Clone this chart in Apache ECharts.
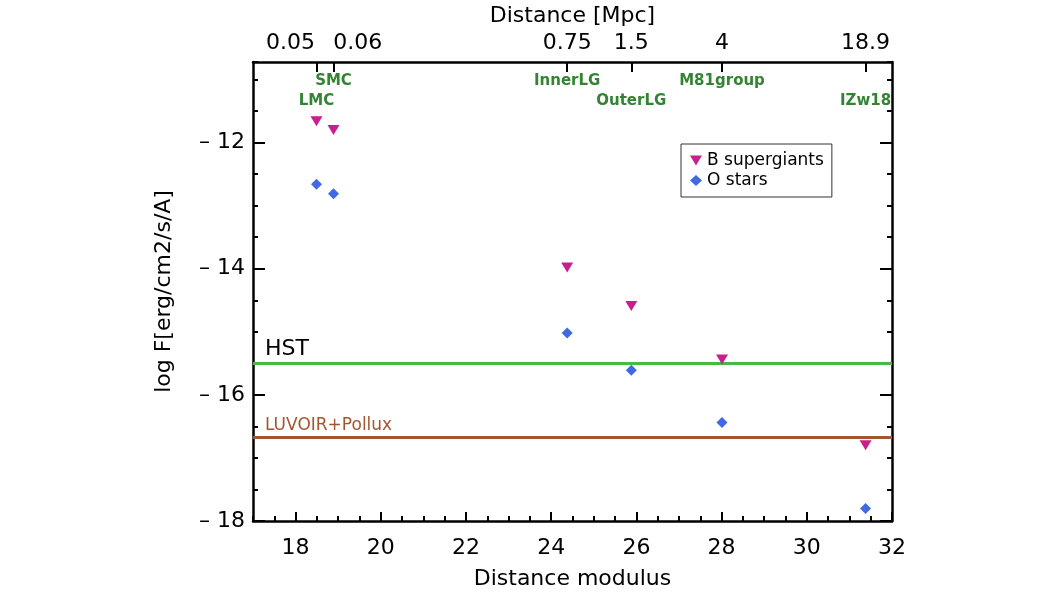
<!DOCTYPE html>
<html>
<head>
<meta charset="utf-8">
<script src="https://cdn.jsdelivr.net/npm/echarts@6/dist/echarts.min.js"></script>
<style>
  html, body { margin: 0; background: #fff; }
  #main { width: 1058px; height: 595px; }
</style>
</head>
<body>
<div id="main"></div>
<script>
// galaxies / groups and their distance modulus
const galaxies = ['LMC', 'SMC', 'InnerLG', 'OuterLG', 'M81group', 'IZw18'];
const distMod = [18.49, 18.89, 24.375, 25.88, 28.01, 31.38];
const distMpc = ['0.05', '0.06', '0.75', '1.5', '4', '18.9'];
// where the Mpc labels sit on the top axis (the first two are pushed apart)
const mpcLabelAt = [17.88, 19.46, 24.375, 25.88, 28.01, 31.38];
// height of the galaxy name labels
const nameLevel = [-11.34, -11.03, -11.03, -11.34, -11.03, -11.34];

// log flux
const bSupergiants = [-11.66, -11.80, -13.98, -14.59, -15.44, -16.80];
const oStars = [-12.66, -12.81, -15.02, -15.61, -16.44, -17.80];

// detection limits
const limitNames = ['HST', 'LUVOIR+Pollux'];
const limitLevels = [-15.5, -16.67];

const xLabels = [18, 20, 22, 24, 26, 28, 30, 32];
const yLabels = [-18, -16, -14, -12];

const FONT = 'DejaVu Sans';
const limitStyle = [
  { line: '#45bb45', text: '#000000', size: 22 },
  { line: '#a5552f', text: '#a5552f', size: 17 }
];
const tri = 'path://M0,0 L12,0 L6,10 Z';

const chart = echarts.init(document.getElementById('main'));

const axisLine = { show: true, lineStyle: { color: '#000', width: 2.5 } };
const minorTick = { show: true, inside: true, length: 5, lineStyle: { color: '#000', width: 2 } };
const majorTick = (vals, len) => ({ show: true, inside: true, length: len, customValues: vals, lineStyle: { color: '#000', width: 2 } });
const tickFont = { color: '#000', fontSize: 22, fontFamily: FONT };

const option = {
  animation: false,
  backgroundColor: '#fff',
  grid: { left: 253, right: 166, top: 58, bottom: 72 },
  xAxis: [
    {
      type: 'value', position: 'bottom', min: 17, max: 32, interval: 0.5,
      name: 'Distance modulus', nameLocation: 'middle', nameGap: 47,
      nameTextStyle: { color: '#000', fontSize: 22, fontFamily: FONT },
      axisLine: axisLine, axisTick: minorTick,
      axisLabel: Object.assign({ customValues: xLabels, margin: 16 }, tickFont),
      splitLine: { show: false }
    },
    {
      type: 'value', position: 'bottom', min: 17, max: 32,
      axisLine: { show: false }, axisTick: majorTick(xLabels, 9),
      axisLabel: { show: false }, splitLine: { show: false }
    },
    {
      type: 'value', position: 'top', min: 17, max: 32,
      name: 'Distance [Mpc]', nameLocation: 'middle', nameGap: 32,
      nameTextStyle: { color: '#000', fontSize: 22, fontFamily: FONT },
      axisLine: axisLine, axisTick: majorTick(distMod, 10),
      axisLabel: Object.assign({
        customValues: mpcLabelAt, margin: 8,
        formatter: v => distMpc[mpcLabelAt.indexOf(v)]
      }, tickFont),
      splitLine: { show: false }
    }
  ],
  yAxis: [
    {
      type: 'value', position: 'left', min: -18, max: -10.72, interval: 0.5,
      name: 'log F[erg/cm2/s/A]', nameLocation: 'middle', nameGap: 78, nameRotate: 90,
      nameTextStyle: { color: '#000', fontSize: 22, fontFamily: FONT },
      axisLine: axisLine, axisTick: minorTick,
      axisLabel: Object.assign({
        customValues: yLabels, margin: 8,
        formatter: v => '\u2013 ' + Math.abs(v)
      }, tickFont),
      splitLine: { show: false }
    },
    {
      type: 'value', position: 'left', min: -18, max: -10.72,
      axisLine: { show: false }, axisTick: majorTick(yLabels, 12),
      axisLabel: { show: false }, splitLine: { show: false }
    },
    {
      type: 'value', position: 'right', min: -18, max: -10.72, interval: 0.5,
      axisLine: axisLine, axisTick: minorTick,
      axisLabel: { show: false }, splitLine: { show: false }
    },
    {
      type: 'value', position: 'right', min: -18, max: -10.72,
      axisLine: { show: false }, axisTick: majorTick(yLabels, 12),
      axisLabel: { show: false }, splitLine: { show: false }
    }
  ],
  legend: {
    orient: 'vertical', left: 681, top: 144,
    borderColor: '#333', borderWidth: 1, borderRadius: 0,
    padding: [8, 8, 8, 9], itemGap: 3, itemWidth: 12, itemHeight: 11,
    textStyle: { color: '#000', fontSize: 17, fontFamily: FONT },
    data: [
      { name: 'B supergiants', icon: tri },
      { name: 'O stars', icon: 'diamond' }
    ]
  },
  series: [
    {
      name: 'B supergiants', type: 'scatter', symbol: tri, symbolSize: [12, 10],
      itemStyle: { color: '#c71f8e', opacity: 1 },
      data: distMod.map((d, i) => [d, bSupergiants[i]]),
      z: 5,
      markLine: {
        silent: true, symbol: ['none', 'none'], animation: false,
        data: limitNames.map((n, i) => ({
          name: n, yAxis: limitLevels[i],
          lineStyle: { color: limitStyle[i].line, width: 3, type: 'solid' },
          label: {
            show: true, position: 'insideStartTop', formatter: '{b}',
            distance: [12, 3], color: limitStyle[i].text,
            fontSize: limitStyle[i].size, fontFamily: FONT
          }
        }))
      }
    },
    {
      name: 'O stars', type: 'scatter', symbol: 'diamond', symbolSize: 11,
      itemStyle: { color: '#4169e1', opacity: 1 },
      data: distMod.map((d, i) => [d, oStars[i]]),
      z: 5
    },
    {
      name: 'galaxies', type: 'scatter', symbolSize: 0, silent: true,
      data: distMod.map((d, i) => ({ value: [d, nameLevel[i]], name: galaxies[i] })),
      label: {
        show: true, position: 'inside', formatter: '{b}',
        color: '#006400', fontWeight: 'bold', fontSize: 15, fontFamily: FONT
      }
    }
  ]
};

chart.setOption(option);
</script>
</body>
</html>
